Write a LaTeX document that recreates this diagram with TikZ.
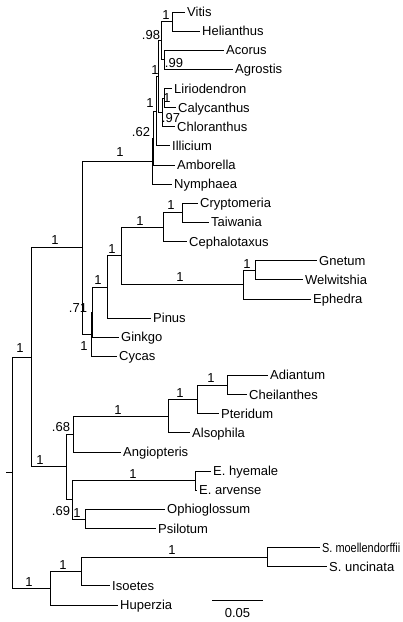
\documentclass[tikz,border=0pt]{standalone}
\usepackage{fontspec}
\setmainfont{Liberation Sans}
\usepackage{tikz}

\begin{document}
\begin{tikzpicture}[
  x=1pt, y=-19.13pt,
  font=\fontsize{13}{15}\selectfont,
  taxon/.style={anchor=west, inner xsep=2pt, inner ysep=0pt, text height=9pt, text depth=0pt},
  support/.style={inner sep=0pt, text height=9pt, text depth=0pt},
  branch/.style={line width=0.9pt, draw=black}
]
\useasboundingbox (0,-0.627) rectangle (402,31.887);
\node[taxon] (vitis) at (185,0) {Vitis};
\node[taxon] (helianthus) at (200,1) {Helianthus};
\node[taxon] (acorus) at (224,2) {Acorus};
\node[taxon] (agrostis) at (233,3) {Agrostis};
\node[taxon] (liriodendron) at (172,4) {Liriodendron};
\node[taxon] (calycanthus) at (176,5) {Calycanthus};
\node[taxon] (chloranthus) at (175,6) {Chloranthus};
\node[taxon] (illicium) at (170,7) {Illicium};
\node[taxon] (amborella) at (175,8) {Amborella};
\node[taxon] (nymphaea) at (172,9) {Nymphaea};
\node[taxon] (cryptomeria) at (198,10) {Cryptomeria};
\node[taxon] (taiwania) at (209,11) {Taiwania};
\node[taxon] (cephalotaxus) at (187,12) {Cephalotaxus};
\node[taxon] (gnetum) at (317,13) {Gnetum};
\node[taxon] (welwitshia) at (303,14) {Welwitshia};
\node[taxon] (ephedra) at (311,15) {Ephedra};
\node[taxon] (pinus) at (151,16) {Pinus};
\node[taxon] (ginkgo) at (119,17) {Ginkgo};
\node[taxon] (cycas) at (117,18) {Cycas};
\node[taxon] (adiantum) at (268,19) {Adiantum};
\node[taxon] (cheilanthes) at (247,20) {Cheilanthes};
\node[taxon] (pteridum) at (219,21) {Pteridum};
\node[taxon] (alsophila) at (190,22) {Alsophila};
\node[taxon] (angiopteris) at (121,23) {Angiopteris};
\node[taxon] (hyemale) at (211,24) {E. hyemale};
\node[taxon] (arvense) at (197,25) {E. arvense};
\node[taxon] (ophioglossum) at (165,26) {Ophioglossum};
\node[taxon] (psilotum) at (156,27) {Psilotum};
\node[taxon] (moellendorffii) at (320,28) {\scalebox{0.84}[1]{S. moellendorffii}};
\node[taxon] (uncinata) at (327,29) {S. uncinata};
\node[taxon] (isoetes) at (110,30) {Isoetes};
\node[taxon] (huperzia) at (118,31) {Huperzia};

\coordinate (vh) at (172,0.5);
\coordinate (aa) at (164,2.5);
\coordinate (a5) at (161,1.5);
\coordinate (lc) at (164,4.5);
\coordinate (a4) at (162,5.25);
\coordinate (a3) at (158.5,3.375);
\coordinate (a2) at (156.5,5.1875);
\coordinate (a1) at (153.5,6.59375);
\coordinate (a0) at (152,7.796875);
\coordinate (ct) at (182,10.5);
\coordinate (g5) at (163,11.25);
\coordinate (gw) at (255,13.5);
\coordinate (gn) at (243,14.25);
\coordinate (g4) at (121,12.75);
\coordinate (g3) at (107,14.375);
\coordinate (g2) at (92,15.6875);
\coordinate (g1) at (91,16.84375);
\coordinate (seed) at (82,12.3203);
\coordinate (ac) at (227,19.5);
\coordinate (pt) at (197,20.25);
\coordinate (fern) at (168,21.125);
\coordinate (m1) at (73,22.0625);
\coordinate (eq) at (195,24.5);
\coordinate (op) at (85,26.5);
\coordinate (m2) at (72,25.5);
\coordinate (m0) at (66,23.78125);
\coordinate (eu) at (31,18.0508);
\coordinate (sel) at (267,28.5);
\coordinate (l1) at (81,29.25);
\coordinate (lyco) at (50,30.125);
\coordinate (root) at (12,24.0879);
\coordinate (stub) at (6,24.0879);

\draw[branch] (vh) |- (vitis.west);
\draw[branch] (vh) |- (helianthus.west);
\draw[branch] (aa) |- (acorus.west);
\draw[branch] (aa) |- (agrostis.west);
\draw[branch] (a5) |- (vh);
\draw[branch] (a5) |- (aa);
\draw[branch] (lc) |- (liriodendron.west);
\draw[branch] (lc) |- (calycanthus.west);
\draw[branch] (a4) |- (lc);
\draw[branch] (a4) |- (chloranthus.west);
\draw[branch] (a3) |- (a5);
\draw[branch] (a3) |- (a4);
\draw[branch] (a2) |- (a3);
\draw[branch] (a2) |- (illicium.west);
\draw[branch] (a1) |- (a2);
\draw[branch] (a1) |- (amborella.west);
\draw[branch] (a0) |- (a1);
\draw[branch] (a0) |- (nymphaea.west);
\draw[branch] (ct) |- (cryptomeria.west);
\draw[branch] (ct) |- (taiwania.west);
\draw[branch] (g5) |- (ct);
\draw[branch] (g5) |- (cephalotaxus.west);
\draw[branch] (gw) |- (gnetum.west);
\draw[branch] (gw) |- (welwitshia.west);
\draw[branch] (gn) |- (gw);
\draw[branch] (gn) |- (ephedra.west);
\draw[branch] (g4) |- (g5);
\draw[branch] (g4) |- (gn);
\draw[branch] (g3) |- (g4);
\draw[branch] (g3) |- (pinus.west);
\draw[branch] (g2) |- (g3);
\draw[branch] (g2) |- (ginkgo.west);
\draw[branch] (g1) |- (g2);
\draw[branch] (g1) |- (cycas.west);
\draw[branch] (seed) |- (a0);
\draw[branch] (seed) |- (g1);
\draw[branch] (ac) |- (adiantum.west);
\draw[branch] (ac) |- (cheilanthes.west);
\draw[branch] (pt) |- (ac);
\draw[branch] (pt) |- (pteridum.west);
\draw[branch] (fern) |- (pt);
\draw[branch] (fern) |- (alsophila.west);
\draw[branch] (m1) |- (fern);
\draw[branch] (m1) |- (angiopteris.west);
\draw[branch] (eq) |- (hyemale.west);
\draw[branch] (eq) |- (arvense.west);
\draw[branch] (op) |- (ophioglossum.west);
\draw[branch] (op) |- (psilotum.west);
\draw[branch] (m2) |- (eq);
\draw[branch] (m2) |- (op);
\draw[branch] (m0) |- (m1);
\draw[branch] (m0) |- (m2);
\draw[branch] (eu) |- (seed);
\draw[branch] (eu) |- (m0);
\draw[branch] (sel) |- (moellendorffii.west);
\draw[branch] (sel) |- (uncinata.west);
\draw[branch] (l1) |- (sel);
\draw[branch] (l1) |- (isoetes.west);
\draw[branch] (lyco) |- (l1);
\draw[branch] (lyco) |- (huperzia.west);
\draw[branch] (root) |- (eu);
\draw[branch] (root) |- (lyco);
\draw[branch] (stub) -- (root);

\node[support] (s-vh) at (166,0.157) {1};
\node[support] (s-a5) at (151,1.2) {.98};
\node[support] (s-aa) at (174,2.67) {.99};
\node[support] (s-a3) at (155,3.03) {1};
\node[support] (s-lc) at (167,4.5) {1};
\node[support] (s-a4) at (171,5.54) {.97};
\node[support] (s-a2) at (150,4.76) {1};
\node[support] (s-a1) at (141,6.27) {.62};
\node[support] (s-a0) at (120,7.32) {1};
\node[support] (s-ct) at (171,10.09) {1};
\node[support] (s-g5) at (140,10.93) {1};
\node[support] (s-gw) at (247,13.17) {1};
\node[support] (s-gn) at (180,13.85) {1};
\node[support] (s-g4) at (112,12.39) {1};
\node[support] (s-g3) at (98,14.01) {1};
\node[support] (s-g2) at (78,15.47) {.71};
\node[support] (s-g1) at (84,17.46) {1};
\node[support] (s-seed) at (55,11.92) {1};
\node[support] (s-ac) at (211,19.13) {1};
\node[support] (s-pt) at (180,19.92) {1};
\node[support] (s-fern) at (118,20.81) {1};
\node[support] (s-m1) at (61,21.69) {.68};
\node[support] (s-eq) at (133,24.15) {1};
\node[support] (s-op) at (77,26.19) {1};
\node[support] (s-m2) at (61,26.08) {.69};
\node[support] (s-m0) at (40,23.42) {1};
\node[support] (s-eu) at (20,17.56) {1};
\node[support] (s-sel) at (172,28.12) {1};
\node[support] (s-l1) at (63,28.91) {1};
\node[support] (s-lyco) at (29,29.79) {1};

\coordinate (bar0) at (212,30.74);
\coordinate (bar1) at (263,30.74);
\draw[branch] (bar0) -- (bar1);
\node[support] (barlabel) at (237.5,31.42) {0.05};
\end{tikzpicture}
\end{document}
